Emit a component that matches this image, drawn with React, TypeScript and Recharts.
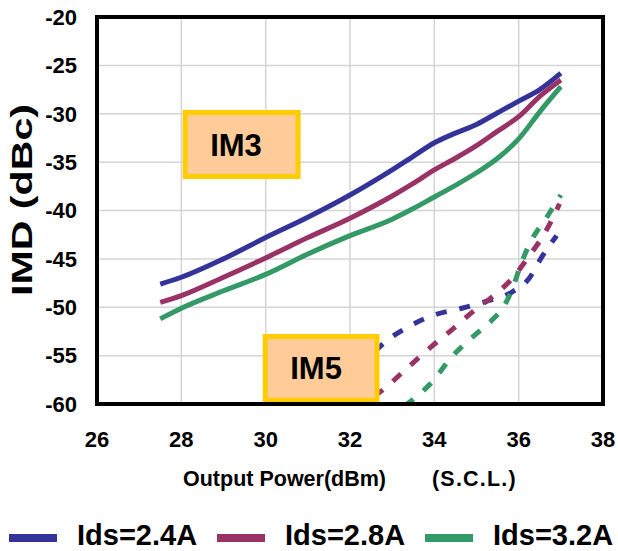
import React from 'react';
import { LineChart, Line, XAxis, YAxis, CartesianGrid, ReferenceArea, Legend } from 'recharts';

const FONT = '"Liberation Sans", Arial, Helvetica, sans-serif';

const seriesNames = ['Ids=2.4A', 'Ids=2.8A', 'Ids=3.2A'];
const seriesColors = ['#333399', '#993366', '#339966'];

// IM3 (solid)
const im3X = [27.5, 28, 29, 30, 31, 32, 33, 33.5, 34, 34.5, 35, 35.5, 36, 36.5, 37];
const im3Ids24 = [-47.6, -46.9, -45.0, -42.8, -40.7, -38.4, -35.8, -34.4, -33.0, -32.0, -31.1, -29.9, -28.7, -27.5, -25.8];
const im3Ids28 = [-49.5, -48.8, -46.9, -44.9, -42.8, -40.8, -38.5, -37.2, -35.8, -34.6, -33.3, -31.8, -30.3, -28.2, -26.5];
const im3Ids32 = [-51.2, -50.1, -48.3, -46.6, -44.5, -42.6, -40.9, -39.8, -38.6, -37.4, -36.1, -34.6, -32.6, -29.8, -27.2];

// IM5 (dashed)
const im5Ids24X = [31.45, 32.2, 32.8, 33.35, 34.0, 34.65, 35.3, 35.85, 36.25, 36.55, 36.9];
const im5Ids24 = [-60.1, -56.5, -53.7, -52.1, -50.8, -50.1, -49.3, -48.4, -47.0, -44.8, -42.6];
const im5Ids28X = [32.05, 32.7, 33.35, 33.95, 34.45, 34.9, 35.35, 35.85, 36.25, 36.65, 36.97];
const im5Ids28 = [-60.2, -58.8, -56.3, -54.0, -52.2, -50.5, -49.0, -47.0, -44.7, -42.1, -39.3];
const im5Ids32X = [33.3, 33.95, 34.4, 34.9, 35.35, 35.65, 35.85, 36.05, 36.3, 36.65, 37.0];
const im5Ids32 = [-60.2, -57.7, -55.2, -53.1, -51.4, -49.9, -48.1, -45.6, -43.1, -40.8, -38.4];

const xTicks = [26, 28, 30, 32, 34, 36, 38];
const yTicks = [-60, -55, -50, -45, -40, -35, -30, -25, -20];

const xTitle = 'Output Power(dBm)';
const xTitleNote = '(S.C.L.)';
const yTitle = 'IMD (dBc)';

// annotation boxes (data coordinates)
const im3Box = { label: 'IM3', x1: 28.09, x2: 30.77, y1: -36.49, y2: -29.87 };
const im5Box = { label: 'IM5', x1: 29.99, x2: 32.64, y1: -59.61, y2: -53.02 };

const toPoints = (xs: number[], ys: number[]) => xs.map((x, i) => ({ x, y: ys[i] }));

const im3Series = [im3Ids24, im3Ids28, im3Ids32];
const im5Series = [
  [im5Ids24X, im5Ids24],
  [im5Ids28X, im5Ids28],
  [im5Ids32X, im5Ids32],
];

const tickStyle = { fontSize: 22, fontWeight: 'bold', fill: '#000', fontFamily: FONT };

const XTitle = (props: any) => {
  const vb = props.viewBox || {};
  const cx = vb.x + vb.width / 2;
  const y = vb.y + 82;
  return (
    <text y={y} fontFamily={FONT} fontWeight="bold" fontSize={21.5} fill="#000">
      <tspan x={cx - 167}>{xTitle}</tspan>
      <tspan x={cx + 82} letterSpacing={1.2}>{xTitleNote}</tspan>
    </text>
  );
};

const YTitle = (props: any) => {
  const vb = props.viewBox || {};
  const cx = vb.x + 21;
  const cy = 200;
  return (
    <text
      x={cx}
      y={cy}
      transform={`rotate(-90 ${cx} ${cy})`}
      textAnchor="middle"
      dominantBaseline="central"
      fontFamily={FONT}
      fontWeight="bold"
      fontSize={30}
      textLength={192}
      lengthAdjust="spacingAndGlyphs"
      fill="#000"
    >
      {yTitle}
    </text>
  );
};

const LegendContent = () => (
  <svg width={618} height={44} style={{ display: 'block' }}>
    {seriesNames.map((n, i) => (
      <g key={n}>
        <rect x={9 + i * 208} y={27} width={48} height={8} fill={seriesColors[i]} />
        <text x={77 + i * 208} y={38} fontFamily={FONT} fontWeight="bold" fontSize={29} fill="#000">
          {n}
        </text>
      </g>
    ))}
  </svg>
);

export default function App() {
  return (
    <div style={{ position: 'absolute', left: 0, top: 0, width: 618, height: 551, background: '#fff' }}>
      <LineChart width={618} height={551} margin={{ top: 17, right: 15, left: 0, bottom: 0 }}>
        <CartesianGrid stroke="#d4d4d4" strokeWidth={1.5} />
        <XAxis
          type="number"
          dataKey="x"
          domain={[26, 38]}
          ticks={xTicks}
          allowDataOverflow
          tickLine={false}
          axisLine={false}
          tickSize={0}
          tickMargin={27}
          height={103}
          tick={tickStyle}
          interval={0}
          label={<XTitle />}
        />
        <YAxis
          type="number"
          domain={[-60, -20]}
          ticks={yTicks}
          allowDataOverflow
          tickLine={false}
          axisLine={false}
          tickSize={0}
          tickMargin={20}
          width={97}
          tick={tickStyle}
          interval={0}
          label={<YTitle />}
        />
        {im3Series.map((ys, i) => (
          <Line
            key={'im3' + i}
            data={toPoints(im3X, ys)}
            dataKey="y"
            type="monotone"
            stroke={seriesColors[i]}
            strokeWidth={5}
            dot={false}
            activeDot={false}
            legendType="none"
            isAnimationActive={false}
          />
        ))}
        {im5Series.map(([xs, ys], i) => (
          <Line
            key={'im5' + i}
            data={toPoints(xs, ys)}
            dataKey="y"
            type="monotone"
            stroke={seriesColors[i]}
            strokeWidth={5}
            strokeDasharray="11 13"
            dot={false}
            activeDot={false}
            legendType="none"
            isAnimationActive={false}
          />
        ))}
        {[im3Box, im5Box].map((b) => (
          <ReferenceArea
            key={b.label}
            x1={b.x1}
            x2={b.x2}
            y1={b.y1}
            y2={b.y2}
            fill="#FFCC99"
            fillOpacity={1}
            stroke="#FFCC00"
            strokeWidth={5}
            strokeOpacity={1}
            zIndex={1000}
            label={{
              value: b.label,
              position: 'insideLeft',
              offset: 25,
              fontSize: 31,
              fontWeight: 'bold',
              fill: '#000',
              fontFamily: FONT,
            }}
          />
        ))}
        <ReferenceArea
          x1={26}
          x2={38}
          y1={-60}
          y2={-20}
          fill="none"
          stroke="#000"
          strokeWidth={4}
          strokeOpacity={1}
          zIndex={1100}
        />
        <Legend
          verticalAlign="bottom"
          height={44}
          content={<LegendContent />}
          wrapperStyle={{ left: 0, bottom: 0, width: 618, height: 44 }}
        />
      </LineChart>
    </div>
  );
}
